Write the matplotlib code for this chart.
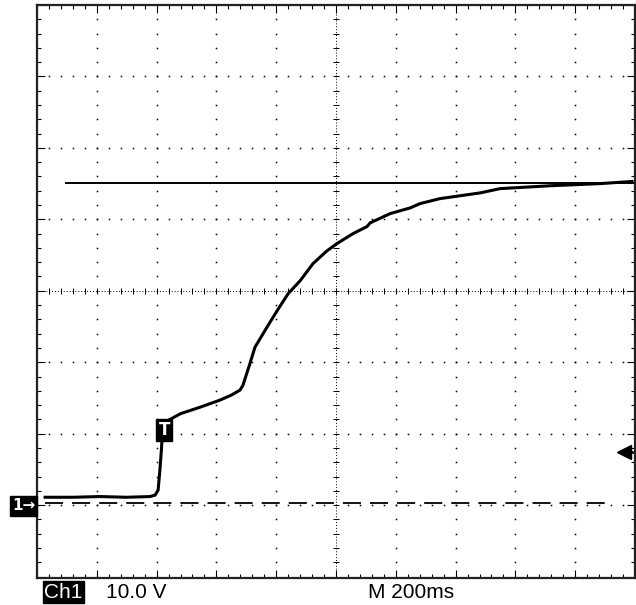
import matplotlib
matplotlib.use("Agg")
import matplotlib.pyplot as plt
import numpy as np

# scope settings: 200 ms/div, 10 V/div, ground 3 div below centre
t_ms = [27, 120, 210, 300, 378, 395, 405, 411, 416, 421, 425, 445, 480, 545,
        612, 650, 679, 689, 712, 729, 769, 803, 840, 880, 923, 970, 1003,
        1057, 1104, 1114, 1181, 1248, 1281, 1348, 1415, 1482, 1549, 1716,
        1883, 1990]
volts = [1.1, 1.1, 1.2, 1.1, 1.2, 1.4, 2.1, 4.9, 7.7, 11.2, 11.6, 12.0, 12.8,
         13.7, 14.7, 15.4, 16.1, 16.8, 19.8, 22.1, 24.9, 27.2, 29.6, 31.4,
         33.8, 35.6, 36.6, 38.0, 39.0, 39.5, 40.8, 41.6, 42.2, 42.9, 43.3,
         43.7, 44.3, 44.7, 45.0, 45.3]

cursor_v = 45.1
ref_v = 0.3
trig_level = 7.4
trig_t, trig_v = 425, 10.5

fig = plt.figure(figsize=(6.36, 6.05), dpi=100)
ax = fig.add_axes([37 / 636, 1 - 578 / 605, 598 / 636, 573 / 605])
ax.set_xlim(0, 2000)
ax.set_ylim(-10.2, 69.8)

# graticule dots
for xv in range(200, 2000, 200):
    if xv == 1000:
        continue
    yy = np.arange(-10, 70, 2)
    ax.plot([xv] * len(yy), yy, ls="none", marker="s", ms=1.1, color="k", mec="none")
for yv in range(0, 70, 10):
    if yv == 30:
        continue
    xx = np.arange(40, 2000, 40)
    ax.plot(xx, [yv] * len(xx), ls="none", marker="s", ms=1.1, color="k", mec="none")

# centre lines with crossing ticks
ax.axhline(30, color="k", lw=0.7, ls=(0, (1, 2)))
ax.axvline(1000, color="k", lw=0.7, ls=(0, (1, 2)))
xx = np.arange(40, 2000, 40)
ax.plot(xx, [30] * len(xx), ls="none", marker="|", ms=5, mew=0.7, color="k")
yy = np.arange(-8, 70, 2)
ax.plot([1000] * len(yy), yy, ls="none", marker="_", ms=5, mew=0.7, color="k")

# cursors / references
ax.plot([97, 2000], [cursor_v, cursor_v], color="k", lw=1.4)
ax.plot([27, 1900], [ref_v, ref_v], color="k", lw=1.3, ls=(0, (10, 5)))

# trace
ax.plot(t_ms, volts, color="k", lw=2.2, solid_joinstyle="miter")

# trigger marker and trigger level arrow
ax.text(trig_t, trig_v, "T", color="white", fontsize=12, fontweight="bold",
        ha="center", va="center",
        bbox=dict(facecolor="black", edgecolor="black", pad=1.5))
ax.plot([1965, 2000], [trig_level, trig_level], color="k", lw=1.8)
ax.plot([1962], [trig_level], marker="<", ms=10, color="k", mec="k")

ax.set_xticks(np.arange(0, 2001, 200))
ax.set_xticks(np.arange(0, 2001, 40), minor=True)
ax.set_yticks(np.arange(-10, 71, 10))
ax.set_yticks(np.arange(-10, 71, 2), minor=True)
ax.tick_params(which="both", direction="in", top=True, right=True,
               labelbottom=False, labelleft=False, width=0.8, color="k")
ax.tick_params(which="major", length=6)
ax.tick_params(which="minor", length=3)
for sp in ax.spines.values():
    sp.set_linewidth(1.6)
    sp.set_color("#222222")

fam = ["Liberation Sans", "DejaVu Sans"]
# ground marker
fig.text(12 / 636, 1 - 506 / 605, "1\u2192", color="white", fontsize=11,
         family=["DejaVu Sans"], fontweight="bold", ha="left", va="center",
         bbox=dict(facecolor="black", edgecolor="black", pad=1.5))

# bottom readout
fig.text(44 / 636, 1 - 592 / 605, "Ch1", color="white", fontsize=15,
         family=fam, ha="left", va="center",
         bbox=dict(facecolor="black", edgecolor="black", pad=1.0))
fig.text(106 / 636, 1 - 592 / 605, "10.0 V", color="black", fontsize=15,
         family=fam, ha="left", va="center")
fig.text(368 / 636, 1 - 592 / 605, "M 200ms", color="black", fontsize=15,
         family=fam, ha="left", va="center")

fig.savefig("out.png", dpi=100)
